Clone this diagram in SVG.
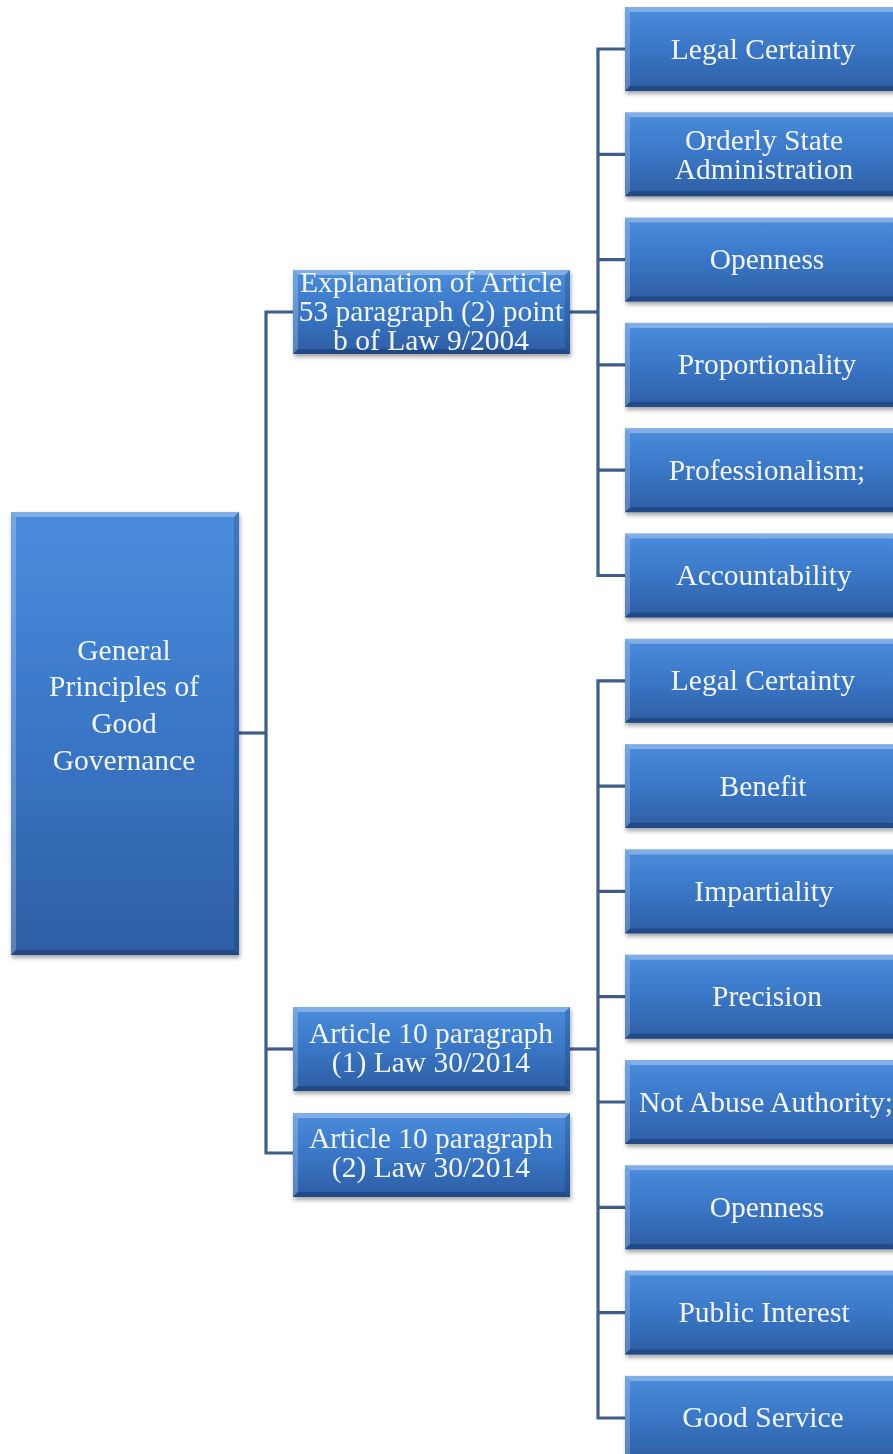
<svg xmlns="http://www.w3.org/2000/svg" xmlns:xlink="http://www.w3.org/1999/xlink" width="893" height="1454" viewBox="0 0 893 1454">
<style>
.t{font-family:"Liberation Serif","Times New Roman",serif;fill:#f2f7ff;text-anchor:middle}
.r{font-size:29.5px}
.m{font-size:29.5px}
.root{font-size:29.5px}
.c{fill:none;stroke:#3e5d89;stroke-width:3.2;stroke-linejoin:miter}
.hl{fill:#ffffff;opacity:0.22}
.hl2{fill:#ffffff;opacity:0.3}
.dk{fill:#0a2350;opacity:0.35}
.dk2{fill:#0a2350;opacity:0.2}
</style>
<defs>
<linearGradient id="bg" x1="0" y1="0" x2="0" y2="1">
<stop offset="0" stop-color="#4a8ddc"/>
<stop offset="0.5" stop-color="#3a76c6"/>
<stop offset="1" stop-color="#2d5ea3"/>
</linearGradient>
<filter id="sh" x="-10%" y="-10%" width="130%" height="130%">
<feDropShadow dx="1" dy="3" stdDeviation="2" flood-color="#000" flood-opacity="0.35"/>
</filter>
<g id="rbox">
<rect x="0" y="0" width="280" height="84" fill="url(#bg)"/>
<polygon class="hl2" points="0,0 280,0 275,5 5,5"/>
<polygon class="hl" points="0,0 5,5 5,79 0,84"/>
<polygon class="dk" points="0,84 5,79 275,79 280,84"/>
</g>
<g id="mbox">
<rect x="0" y="0" width="277" height="84" fill="url(#bg)"/>
<polygon class="hl2" points="0,0 277,0 272,5 5,5"/>
<polygon class="hl" points="0,0 5,5 5,79 0,84"/>
<polygon class="dk" points="0,84 5,79 272,79 277,84"/>
<polygon class="dk2" points="277,0 277,84 272,79 272,5"/>
</g>
</defs>
<rect width="893" height="1454" fill="#ffffff"/>
<g id="connectors">
<path class="c" d="M239 733H266"/>
<path class="c" d="M293 312H266V1153H293"/>
<path class="c" d="M266 1049H293"/>
<path class="c" d="M570 312H598"/>
<path class="c" d="M625 49H598V575.5H625"/>
<path class="c" d="M598 154.3H625M598 259.6H625M598 364.9H625M598 470.2H625"/>
<path class="c" d="M570 1049H598"/>
<path class="c" d="M625 680.8H598V1418H625"/>
<path class="c" d="M598 786.1H625M598 891.4H625M598 996.7H625M598 1102H625M598 1207.3H625M598 1312.6H625"/>
</g>
<g id="root" filter="url(#sh)">
<rect x="11" y="512" width="228" height="443" fill="url(#bg)"/>
<polygon class="hl2" points="11,512 239,512 234,517 16,517"/>
<polygon class="hl" points="11,512 16,517 16,950 11,955"/>
<polygon class="dk" points="11,955 16,950 234,950 239,955"/>
<polygon class="dk2" points="239,512 239,955 234,950 234,517"/>
<text class="t root" x="124" y="660">General</text>
<text class="t root" x="124" y="696">Principles of</text>
<text class="t root" x="124" y="733">Good</text>
<text class="t root" x="124" y="770">Governance</text>
</g>
<g id="mid1" filter="url(#sh)">
<use xlink:href="#mbox" x="293" y="270"/>
<text class="t m" x="431" y="292">Explanation of Article</text>
<text class="t m" x="431" y="321">53 paragraph (2) point</text>
<text class="t m" x="431" y="350">b of Law 9/2004</text>
</g>
<g id="mid2" filter="url(#sh)">
<use xlink:href="#mbox" x="293" y="1007"/>
<text class="t m" x="431" y="1043">Article 10 paragraph</text>
<text class="t m" x="431" y="1072">(1) Law 30/2014</text>
</g>
<g id="mid3" filter="url(#sh)">
<use xlink:href="#mbox" x="293" y="1113"/>
<text class="t m" x="431" y="1148">Article 10 paragraph</text>
<text class="t m" x="431" y="1177">(2) Law 30/2014</text>
</g>
<g id="a1" filter="url(#sh)"><use xlink:href="#rbox" x="625" y="7"/><text class="t r" x="763" y="58.5">Legal Certainty</text></g>
<g id="a2" filter="url(#sh)"><use xlink:href="#rbox" x="625" y="112.3"/><text class="t r" x="764" y="149.5">Orderly State</text><text class="t r" x="764" y="178.5">Administration</text></g>
<g id="a3" filter="url(#sh)"><use xlink:href="#rbox" x="625" y="217.6"/><text class="t r" x="767" y="269">Openness</text></g>
<g id="a4" filter="url(#sh)"><use xlink:href="#rbox" x="625" y="322.9"/><text class="t r" x="767" y="374.4">Proportionality</text></g>
<g id="a5" filter="url(#sh)"><use xlink:href="#rbox" x="625" y="428.2"/><text class="t r" x="767" y="479.7">Professionalism;</text></g>
<g id="a6" filter="url(#sh)"><use xlink:href="#rbox" x="625" y="533.5"/><text class="t r" x="764" y="585">Accountability</text></g>
<g id="b1" filter="url(#sh)"><use xlink:href="#rbox" x="625" y="638.8"/><text class="t r" x="763" y="690.3">Legal Certainty</text></g>
<g id="b2" filter="url(#sh)"><use xlink:href="#rbox" x="625" y="744.1"/><text class="t r" x="763" y="795.6">Benefit</text></g>
<g id="b3" filter="url(#sh)"><use xlink:href="#rbox" x="625" y="849.4"/><text class="t r" x="764" y="900.9">Impartiality</text></g>
<g id="b4" filter="url(#sh)"><use xlink:href="#rbox" x="625" y="954.7"/><text class="t r" x="767" y="1006.2">Precision</text></g>
<g id="b5" filter="url(#sh)"><use xlink:href="#rbox" x="625" y="1060"/><text class="t r" x="766" y="1111.5">Not Abuse Authority;</text></g>
<g id="b6" filter="url(#sh)"><use xlink:href="#rbox" x="625" y="1165.3"/><text class="t r" x="767" y="1216.8">Openness</text></g>
<g id="b7" filter="url(#sh)"><use xlink:href="#rbox" x="625" y="1270.6"/><text class="t r" x="764" y="1322.1">Public Interest</text></g>
<g id="b8" filter="url(#sh)"><use xlink:href="#rbox" x="625" y="1375.9"/><text class="t r" x="763" y="1427.4">Good Service</text></g>
</svg>
